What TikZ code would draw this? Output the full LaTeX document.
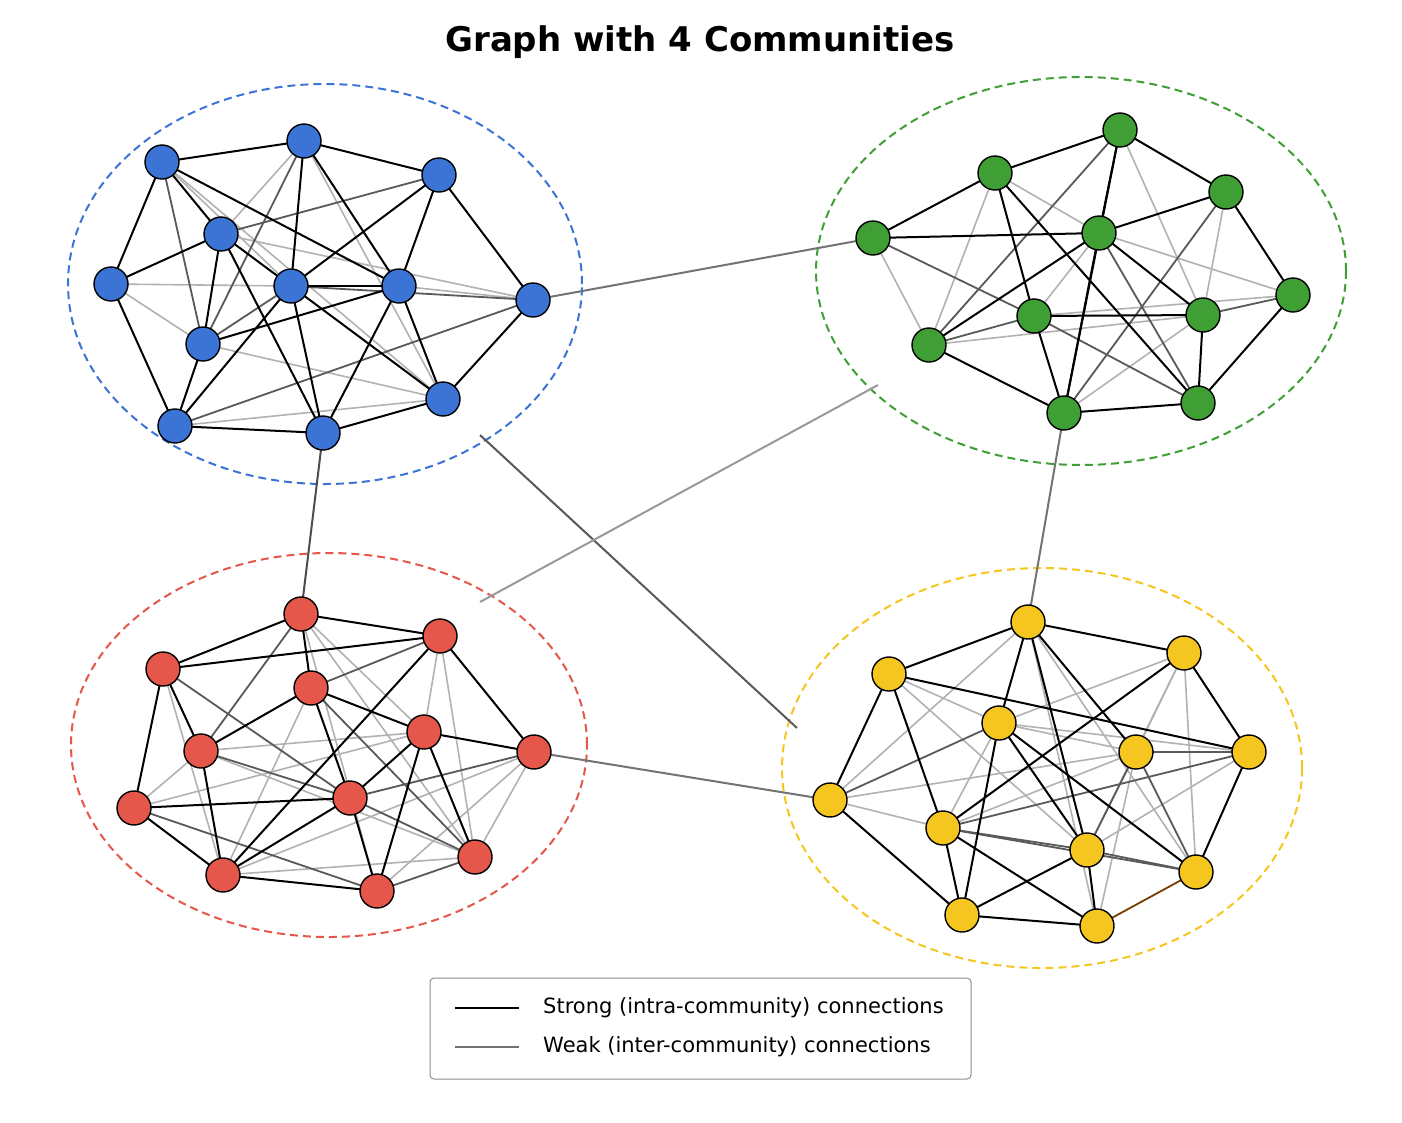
\documentclass[tikz,border=0pt]{standalone}
\usepackage{fontspec}
\setmainfont{DejaVu Sans}
\begin{document}
\begin{tikzpicture}[x=1pt,y=-1pt,
  vtx/.style={circle,draw=black,line width=1.4pt,minimum size=34pt,inner sep=0pt},
  bv/.style={vtx,fill=cblue}, gv/.style={vtx,fill=cgreen}, rv/.style={vtx,fill=cred}, yv/.style={vtx,fill=cyellow},
  strong/.style={draw=black,line width=2pt},
  mid/.style={draw=black!65,line width=1.8pt},
  light/.style={draw=black!30,line width=1.6pt},
  weak/.style={draw=black!55,line width=2pt},
  hull/.style={dashed,dash pattern=on 8pt off 5pt,line width=2pt}]
\definecolor{cblue}{HTML}{3C74D6}
\definecolor{cgreen}{HTML}{3F9E34}
\definecolor{cred}{HTML}{E5574A}
\definecolor{cyellow}{HTML}{F6C620}
\useasboundingbox[fill=white] (0,0) rectangle (1402,1122);

% title
\node[font=\bfseries\fontsize{34}{38}\selectfont] (title) at (700,42) {Graph with 4 Communities};

% community hulls
\draw[hull,draw=cblue] (325,284) ellipse [x radius=257pt,y radius=200pt];
\draw[hull,draw=cgreen] (1081,271) ellipse [x radius=265pt,y radius=194pt];
\draw[hull,draw=cred] (329,745) ellipse [x radius=258pt,y radius=192pt];
\draw[hull,draw=cyellow] (1042,768) ellipse [x radius=260pt,y radius=200pt];

% blue nodes
\coordinate (b1) at (162,162);
\coordinate (b2) at (304,141);
\coordinate (b3) at (439,175);
\coordinate (b4) at (221,234);
\coordinate (b5) at (111,284);
\coordinate (b6) at (291,286);
\coordinate (b7) at (399,286);
\coordinate (b8) at (533,300);
\coordinate (b9) at (203,344);
\coordinate (b10) at (443,399);
\coordinate (b11) at (175,426);
\coordinate (b12) at (323,433);
% green nodes
\coordinate (g1) at (1120,130);
\coordinate (g2) at (995,173);
\coordinate (g3) at (1226,192);
\coordinate (g4) at (873,238);
\coordinate (g5) at (1099,233);
\coordinate (g6) at (1293,295);
\coordinate (g7) at (1034,316);
\coordinate (g8) at (1203,315);
\coordinate (g9) at (929,345);
\coordinate (g10) at (1198,403);
\coordinate (g11) at (1064,413);
% red nodes
\coordinate (r1) at (301,614);
\coordinate (r2) at (440,636);
\coordinate (r3) at (163,669);
\coordinate (r4) at (311,688);
\coordinate (r5) at (424,732);
\coordinate (r6) at (201,751);
\coordinate (r7) at (534,752);
\coordinate (r8) at (134,808);
\coordinate (r9) at (350,798);
\coordinate (r10) at (475,857);
\coordinate (r11) at (223,875);
\coordinate (r12) at (377,891);
% yellow nodes
\coordinate (y1) at (1028,622);
\coordinate (y2) at (1184,653);
\coordinate (y3) at (889,674);
\coordinate (y4) at (999,723);
\coordinate (y5) at (1136,752);
\coordinate (y6) at (1249,752);
\coordinate (y7) at (830,800);
\coordinate (y8) at (943,828);
\coordinate (y9) at (1087,850);
\coordinate (y10) at (1196,872);
\coordinate (y11) at (962,915);
\coordinate (y12) at (1097,926);

\coordinate (bx) at (480,435);
\coordinate (yx) at (797,728);
\coordinate (rx) at (480,602);
\coordinate (gx) at (878,385);

% light edges
\foreach \a/\b in {b1/b6,b2/b4,b2/b10,b5/b6,b5/b9,b7/b8,b9/b10,b11/b10,b4/b8,b1/b10,
  g4/g9,g2/g9,g2/g5,g9/g8,g1/g8,g5/g6,g3/g8,g11/g8,g7/g6,g7/g5,
  r1/r5,r1/r10,r1/r12,r2/r5,r2/r10,r3/r11,r4/r11,r5/r6,r5/r8,r6/r8,r6/r10,r7/r10,r7/r12,r7/r11,r10/r11,
  y1/y7,y3/y4,y3/y9,y4/y5,y4/y2,y4/y6,y4/y8,y7/y8,y7/y5,y8/y5,y9/y2,y9/y6,y2/y10,y2/y5,y5/y12,y1/y12,y1/y10}
  \draw[light] (\a) -- (\b);
% medium edges
\foreach \a/\b in {b1/b9,b2/b9,b3/b4,b6/b9,b8/b11,b6/b8,
  g4/g7,g9/g7,g1/g9,g3/g11,g6/g8,g7/g10,g5/g10,
  r1/r6,r3/r9,r2/r4,r4/r10,r6/r9,r7/r9,r8/r12,r9/r10,r10/r12,
  y4/y7,y8/y9,y9/y5,y9/y10,y5/y10,y5/y6,y8/y6,y8/y10}
  \draw[mid] (\a) -- (\b);
% strong edges
\foreach \a/\b in {b1/b2,b1/b5,b1/b4,b1/b7,b2/b3,b2/b6,b2/b7,b3/b7,b3/b8,b3/b6,b4/b5,b4/b6,b4/b9,b4/b12,b5/b11,b6/b7,b6/b11,b6/b12,b6/b10,b7/b10,b7/b12,b7/b9,b8/b10,b9/b11,b11/b12,b12/b10,
  g4/g2,g4/g5,g2/g7,g2/g10,g9/g11,g9/g5,g7/g11,g7/g8,g11/g5,g11/g10,g11/g1,g5/g1,g5/g3,g5/g8,g1/g3,g3/g6,g6/g10,g8/g10,g1/g2,
  r1/r3,r1/r2,r1/r4,r3/r2,r3/r6,r2/r11,r2/r7,r4/r6,r4/r9,r4/r5,r5/r7,r5/r9,r5/r10,r6/r11,r8/r9,r8/r11,r8/r3,r9/r12,r9/r11,r11/r12,r5/r12,
  y1/y3,y1/y2,y1/y4,y1/y5,y3/y7,y3/y8,y3/y6,y4/y11,y4/y9,y4/y10,y7/y11,y8/y11,y8/y12,y8/y2,y9/y12,y9/y11,y2/y6,y6/y10,y11/y12,y1/y9}
  \draw[strong] (\a) -- (\b);
\draw[draw=black!40!orange!80!black,line width=1.8pt] (y10) -- (y12);
% inter-community edges
\draw[weak] (b8) -- (g4);
\draw[weak,draw=black!70] (b12) -- (r1);
\draw[weak,draw=black!65] (bx) -- (yx);
\draw[weak,draw=black!40] (rx) -- (gx);
\draw[weak] (r7) -- (y7);
\draw[weak] (g11) -- (y1);

% nodes on top
\foreach \n in {b1,b2,b3,b4,b5,b6,b7,b8,b9,b10,b11,b12}
  \node[bv] (n\n) at (\n) {};
\foreach \n in {g1,g2,g3,g4,g5,g6,g7,g8,g9,g10,g11}
  \node[gv] (n\n) at (\n) {};
\foreach \n in {r1,r2,r3,r4,r5,r6,r7,r8,r9,r10,r11,r12}
  \node[rv] (n\n) at (\n) {};
\foreach \n in {y1,y2,y3,y4,y5,y6,y7,y8,y9,y10,y11,y12}
  \node[yv] (n\n) at (\n) {};

% legend
\node[draw=black!45,line width=1pt,rounded corners=4pt,minimum width=541pt,minimum height=101pt,inner sep=0pt] (legend) at (700.5,1028.5) {};
\coordinate (s1) at (455,1008);
\coordinate (s2) at (519,1008);
\coordinate (w1) at (455,1047);
\coordinate (w2) at (519,1047);
\draw[draw=black,line width=2.4pt] (s1) -- (s2);
\draw[draw=black!55,line width=2.4pt] (w1) -- (w2);
\node[anchor=west,inner sep=0pt,font=\fontsize{21}{24}\selectfont] (ls) at (543,1008) {Strong (intra-community) connections};
\node[anchor=west,inner sep=0pt,font=\fontsize{21}{24}\selectfont] (lw) at (543,1047) {Weak (inter-community) connections};
\end{tikzpicture}
\end{document}
